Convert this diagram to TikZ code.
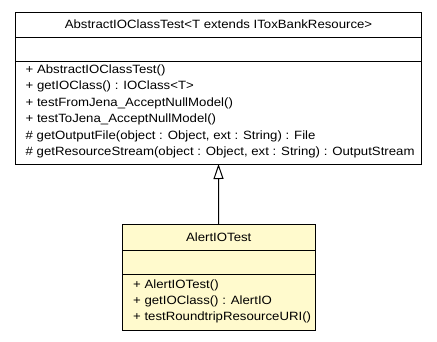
\documentclass[tikz,border=0pt]{standalone}
\usepackage{fontspec}
\setmainfont{Liberation Sans}[FakeStretch=1.1]
\usetikzlibrary{arrows.meta}
\definecolor{noteyellow}{RGB}{255,250,205}
\begin{document}
\begin{tikzpicture}[x=1pt,y=-1pt,
  classbox/.style={draw=black, line width=1pt, inner sep=0pt, outer sep=0pt, anchor=north west},
  sepline/.style={draw=black, line width=1pt},
  member/.style={anchor=west, inner sep=0pt, font=\fontsize{12}{14}\selectfont},
  classname/.style={inner sep=0pt, font=\fontsize{12}{14}\selectfont},
  inherit/.style={draw=black, line width=1pt, -{Triangle[open, length=15pt, width=10pt, fill=white]}}]
\useasboundingbox (0,0) rectangle (437,341);

% superclass
\node[classbox, fill=white, minimum width=405.6pt, minimum height=152pt] (super) at (15.7,12) {};
\draw[sepline] (15.7,37) -- (421.3,37);
\draw[sepline] (15.7,61.7) -- (421.3,61.7);
\node[classname] (superName) at (218.5,24.5) {AbstractIOClassTest<T extends IToxBankResource>};
\node[member] (m1) at (25.5,70) {+ AbstractIOClassTest()};
\node[member] (m2) at (25.5,86.5) {+ getIOClass() : IOClass<T>};
\node[member] (m3) at (25.5,103) {+ testFromJena\_AcceptNullModel()};
\node[member] (m4) at (25.5,119.5) {+ testToJena\_AcceptNullModel()};
\node[member] (m5) at (25.5,136) {\# getOutputFile(object : Object, ext : String) : File};
\node[member] (m6) at (25.5,152.3) {\# getResourceStream(object : Object, ext : String) : OutputStream};

% subclass
\node[classbox, fill=noteyellow, minimum width=192.7pt, minimum height=105.5pt] (sub) at (122.3,224.5) {};
\draw[sepline] (122.3,250) -- (315,250);
\draw[sepline] (122.3,274) -- (315,274);
\node[classname] (subName) at (218.7,237.5) {AlertIOTest};
\node[member] (s1) at (133,285) {+ AlertIOTest()};
\node[member] (s2) at (133,301) {+ getIOClass() : AlertIO};
\node[member] (s3) at (133,317) {+ testRoundtripResourceURI()};

% generalization
\draw[inherit] (sub.north) -- (super.south);
\end{tikzpicture}
\end{document}
